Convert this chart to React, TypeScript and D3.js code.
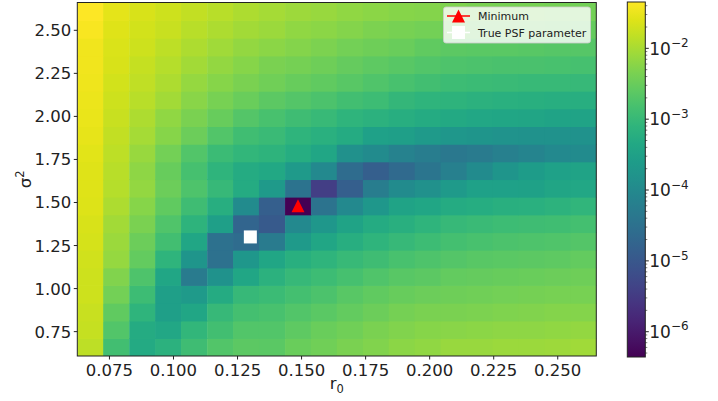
import { scaleLinear, interpolateViridis, range, min, max } from "d3";

const width = 718;
const height = 401;
const left = 77.3;
const right = 596.3;
const top = 2.5;
const bottom = 356;
const cbarLeft = 627.3;
const cbarRight = 645.3;
const cbarTop = 2;
const cbarBottom = 357;
const font = "DejaVu Sans, sans-serif";

const r0Values = [
  0.0675, 0.0776, 0.0878, 0.0979, 0.108, 0.1182, 0.1283, 0.1384, 0.1486, 0.1587,
  0.1688, 0.179, 0.1891, 0.1992, 0.2093, 0.2195, 0.2296, 0.2397, 0.2499, 0.26,
];
const sigma2Values = [
  0.66, 0.763, 0.865, 0.968, 1.071, 1.173, 1.276, 1.378, 1.481, 1.584,
  1.686, 1.789, 1.891, 1.994, 2.097, 2.199, 2.302, 2.404, 2.507, 2.61,
];

// log10 of the loss, first row is the top one (sigma^2 = 2.61)
const logLossRows = [
  [-1.346, -1.55, -1.65, -1.72, -1.8, -1.88, -1.97, -2.03, -2.08, -2.12, -2.17, -2.22, -2.25, -2.28, -2.32, -2.35, -2.37, -2.38, -2.4, -2.42],
  [-1.4, -1.6, -1.68, -1.76, -1.88, -1.97, -2.05, -2.1, -2.17, -2.22, -2.28, -2.33, -2.37, -2.42, -2.45, -2.47, -2.48, -2.5, -2.52, -2.53],
  [-1.45, -1.63, -1.72, -1.85, -1.97, -2.07, -2.15, -2.22, -2.28, -2.34, -2.42, -2.46, -2.5, -2.56, -2.6, -2.62, -2.63, -2.64, -2.66, -2.67],
  [-1.45, -1.65, -1.78, -1.9, -2.05, -2.15, -2.25, -2.35, -2.4, -2.46, -2.53, -2.59, -2.64, -2.7, -2.74, -2.76, -2.78, -2.79, -2.8, -2.82],
  [-1.47, -1.68, -1.83, -1.97, -2.13, -2.25, -2.35, -2.43, -2.52, -2.57, -2.64, -2.72, -2.8, -2.86, -2.92, -2.95, -2.96, -2.98, -2.99, -3.0],
  [-1.5, -1.72, -1.88, -2.05, -2.23, -2.38, -2.5, -2.6, -2.68, -2.77, -2.86, -2.92, -3.03, -3.1, -3.12, -3.15, -3.17, -3.19, -3.21, -3.22],
  [-1.52, -1.76, -1.97, -2.17, -2.35, -2.52, -2.68, -2.8, -2.91, -2.98, -3.1, -3.15, -3.22, -3.3, -3.33, -3.37, -3.4, -3.42, -3.45, -3.45],
  [-1.54, -1.8, -2.03, -2.25, -2.47, -2.7, -2.88, -2.97, -3.1, -3.17, -3.3, -3.5, -3.55, -3.65, -3.7, -3.75, -3.78, -3.8, -3.82, -3.82],
  [-1.57, -1.85, -2.12, -2.42, -2.7, -2.95, -3.05, -3.12, -3.25, -3.4, -3.85, -3.95, -4.15, -4.25, -4.35, -4.3, -4.2, -4.1, -4.0, -3.95],
  [-1.6, -1.88, -2.2, -2.52, -2.82, -3.1, -3.3, -3.35, -3.65, -4.0, -4.6, -4.85, -4.65, -4.4, -4.2, -3.95, -3.75, -3.6, -3.5, -3.45],
  [-1.6, -1.9, -2.15, -2.47, -2.75, -3.0, -3.3, -3.65, -4.45, -5.45, -4.85, -4.25, -3.95, -3.85, -3.65, -3.5, -3.5, -3.48, -3.42, -3.38],
  [-1.62, -1.97, -2.25, -2.57, -2.9, -3.22, -3.95, -4.85, -6.357, -4.45, -4.0, -3.7, -3.45, -3.4, -3.3, -3.25, -3.2, -3.17, -3.13, -3.08],
  [-1.65, -2.05, -2.36, -2.72, -3.12, -3.55, -4.75, -4.95, -4.0, -3.7, -3.45, -3.3, -3.2, -3.1, -3.0, -2.96, -2.93, -2.91, -2.88, -2.84],
  [-1.67, -2.1, -2.47, -2.86, -3.4, -4.5, -4.6, -4.3, -3.65, -3.4, -3.22, -3.1, -3.0, -2.92, -2.84, -2.8, -2.76, -2.74, -2.72, -2.68],
  [-1.7, -2.13, -2.55, -3.1, -3.75, -4.5, -3.7, -3.4, -3.2, -3.1, -2.98, -2.9, -2.8, -2.75, -2.68, -2.64, -2.62, -2.6, -2.58, -2.55],
  [-1.72, -2.3, -2.75, -3.4, -4.3, -3.8, -3.4, -3.15, -3.0, -2.92, -2.82, -2.72, -2.65, -2.6, -2.55, -2.53, -2.51, -2.49, -2.47, -2.45],
  [-1.73, -2.42, -2.92, -3.55, -3.65, -3.3, -3.0, -2.95, -2.85, -2.76, -2.65, -2.57, -2.52, -2.47, -2.45, -2.43, -2.41, -2.4, -2.38, -2.37],
  [-1.76, -2.57, -3.1, -3.55, -3.4, -3.0, -2.85, -2.8, -2.7, -2.62, -2.55, -2.47, -2.4, -2.36, -2.35, -2.33, -2.31, -2.3, -2.28, -2.27],
  [-1.79, -2.7, -3.3, -3.38, -3.05, -2.86, -2.7, -2.7, -2.58, -2.5, -2.43, -2.36, -2.3, -2.26, -2.24, -2.22, -2.2, -2.19, -2.17, -2.16],
  [-1.85, -2.86, -3.32, -3.15, -2.9, -2.7, -2.6, -2.62, -2.5, -2.43, -2.36, -2.3, -2.22, -2.17, -2.12, -2.11, -2.1, -2.09, -2.08, -2.07],
];

const trueR0 = 0.13;
const trueSigma2 = 1.3;

const xTicks = [0.075, 0.1, 0.125, 0.15, 0.175, 0.2, 0.225, 0.25];
const yTicks = [0.75, 1.0, 1.25, 1.5, 1.75, 2.0, 2.25, 2.5];
const cbarExponents = [-6, -5, -4, -3, -2];

const dx = r0Values[1] - r0Values[0];
const dy = sigma2Values[1] - sigma2Values[0];

const xScale = scaleLinear()
  .domain([r0Values[0] - dx / 2, r0Values[r0Values.length - 1] + dx / 2])
  .range([left, right]);
const yScale = scaleLinear()
  .domain([sigma2Values[0] - dy / 2, sigma2Values[sigma2Values.length - 1] + dy / 2])
  .range([bottom, top]);

// rows reversed so index matches sigma2Values
const grid = logLossRows.slice().reverse();
const cells = grid.flatMap((row, j) =>
  row.map((v, i) => ({ r0: r0Values[i], s2: sigma2Values[j], v }))
);
const vMin = min(cells, (d) => d.v) as number;
const vMax = max(cells, (d) => d.v) as number;
const minCell = cells.find((d) => d.v === vMin)!;

const colorT = scaleLinear().domain([vMin, vMax]).range([0, 1]);
const cbarScale = scaleLinear().domain([vMin, vMax]).range([cbarBottom, cbarTop]);

const minorTicks = range(-7, -1).flatMap((e) =>
  range(2, 10).map((m) => e + Math.log10(m))
).filter((v) => v > vMin && v < vMax);

const triangle = (cx: number, cy: number, s: number) =>
  `M${cx},${cy - s / 2}L${cx + s / 2},${cy + s / 2}L${cx - s / 2},${cy + s / 2}Z`;

export default function App() {
  const gradStops = range(0, 1.0001, 0.05);
  return (
    <svg
      width={width}
      height={height}
      style={{ position: "absolute", left: 0, top: 0, background: "white" }}
      fontFamily={font}
    >
      <defs>
        <linearGradient id="viridis" x1="0" y1="1" x2="0" y2="0">
          {gradStops.map((t) => (
            <stop key={t} offset={t} stopColor={interpolateViridis(t)} />
          ))}
        </linearGradient>
        <clipPath id="plotClip">
          <rect x={left} y={top} width={right - left} height={bottom - top} />
        </clipPath>
      </defs>

      <g clipPath="url(#plotClip)">
        {cells.map((d, k) => {
          const x0 = xScale(d.r0 - dx / 2);
          const x1 = xScale(d.r0 + dx / 2);
          const y0 = yScale(d.s2 + dy / 2);
          const y1 = yScale(d.s2 - dy / 2);
          return (
            <rect
              key={k}
              x={x0}
              y={y0}
              width={x1 - x0 + 0.7}
              height={y1 - y0 + 0.7}
              fill={interpolateViridis(colorT(d.v))}
            />
          );
        })}
      </g>

      {/* markers */}
      <path d={triangle(xScale(minCell.r0), yScale(minCell.s2), 13)} fill="red" />
      <rect
        x={xScale(trueR0) - 6.5}
        y={yScale(trueSigma2) - 6.5}
        width={13}
        height={13}
        fill="white"
      />

      <rect
        x={left}
        y={top}
        width={right - left}
        height={bottom - top}
        fill="none"
        stroke="#222"
        strokeWidth={1}
      />

      {/* x axis */}
      {xTicks.map((t) => (
        <g key={t} transform={`translate(${xScale(t)},${bottom})`}>
          <line y2={3.5} stroke="#222" />
          <text y={20} textAnchor="middle" fontSize={16.5} fill="#222">
            {t.toFixed(3)}
          </text>
        </g>
      ))}
      <text x={(left + right) / 2} y={389} textAnchor="middle" fontSize={16.5} fill="#222">
        r<tspan fontSize={11.5} dy={4}>0</tspan>
      </text>

      {/* y axis */}
      {yTicks.map((t) => (
        <g key={t} transform={`translate(${left},${yScale(t)})`}>
          <line x2={-3.5} stroke="#222" />
          <text x={-6} y={6} textAnchor="end" fontSize={16.5} fill="#222">
            {t.toFixed(2)}
          </text>
        </g>
      ))}
      <text
        transform={`translate(31,${(top + bottom) / 2}) rotate(-90)`}
        textAnchor="middle"
        fontSize={16.5}
        fill="#222"
      >
        σ<tspan fontSize={11.5} dy={-7}>2</tspan>
      </text>

      {/* legend */}
      <rect
        x={443.5}
        y={7}
        width={147}
        height={36}
        rx={2.5}
        fill="white"
        fillOpacity={0.8}
        stroke="#ccc"
        strokeOpacity={0.8}
      />
      <line x1={447} x2={470} y1={16} y2={16} stroke="red" strokeWidth={1.5} />
      <path d={triangle(458.5, 16, 13)} fill="red" />
      <text x={478} y={20} fontSize={11} fill="#222">
        Minimum
      </text>
      <line x1={447} x2={470} y1={32.5} y2={32.5} stroke="white" strokeWidth={1.5} />
      <rect x={452} y={26} width={13} height={13} fill="white" />
      <text x={478} y={36.5} fontSize={11} fill="#222">
        True PSF parameter
      </text>

      {/* colorbar */}
      <rect
        x={cbarLeft}
        y={cbarTop}
        width={cbarRight - cbarLeft}
        height={cbarBottom - cbarTop}
        fill="url(#viridis)"
        stroke="#222"
        strokeWidth={1}
      />
      {minorTicks.map((v) => (
        <line
          key={v}
          x1={cbarRight}
          x2={cbarRight + 2}
          y1={cbarScale(v)}
          y2={cbarScale(v)}
          stroke="#222"
          strokeWidth={0.6}
        />
      ))}
      {cbarExponents.map((e) => (
        <g key={e} transform={`translate(${cbarRight},${cbarScale(e)})`}>
          <line x2={3.5} stroke="#222" />
          <text x={4} y={6.2} fontSize={17} fill="#222">
            10<tspan fontSize={12} dy={-7.5}>−{Math.abs(e)}</tspan>
          </text>
        </g>
      ))}
    </svg>
  );
}
